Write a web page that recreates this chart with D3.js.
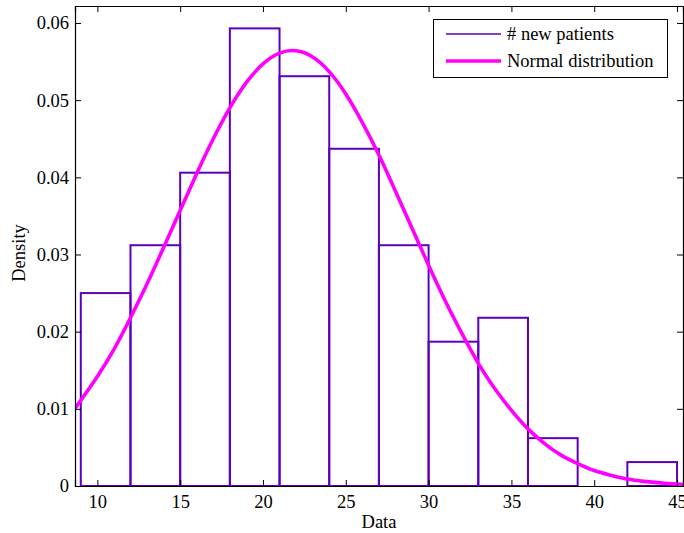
<!DOCTYPE html>
<html>
<head>
<script src="https://d3js.org/d3.v7.min.js"></script>
<style>
  body { margin: 0; background: #fff; }
  text { font-family: "Liberation Serif", "Times New Roman", serif; font-size: 18.5px; fill: #000; }
</style>
</head>
<body>
<svg width="684" height="533"></svg>
<script>
// histogram bins (edges) and density per bin
var binEdges = [9, 12, 15, 18, 21, 24, 27, 30, 33, 36, 39, 42, 45];
var density = [0.0250, 0.0312, 0.0406, 0.0593, 0.0531, 0.0437, 0.0312, 0.0187, 0.0218, 0.0062, 0, 0.0031];

// fitted normal curve
var curveX = [8.65, 9, 10, 11, 12, 13, 14, 15, 16, 17, 18, 19, 20, 21, 22, 23, 24, 25, 26, 27,
              28, 29, 30, 31, 32, 33, 34, 35, 36, 37, 38, 39, 40, 41, 42, 43, 44, 45, 45.36];
var curveY = [0.0101, 0.0111, 0.0142, 0.0177, 0.0218, 0.0262, 0.0309, 0.0357, 0.0405, 0.0450,
              0.0490, 0.0523, 0.0547, 0.0561, 0.0564, 0.0556, 0.0537, 0.0508, 0.0471, 0.0429,
              0.0382, 0.0334, 0.0286, 0.0240, 0.0198, 0.0159, 0.0126, 0.0098, 0.0074, 0.0055,
              0.0040, 0.0029, 0.0020, 0.0014, 0.0009, 0.0006, 0.0004, 0.00025, 0.0002];

var xTicks = [10, 15, 20, 25, 30, 35, 40, 45];
var yTicks = [0, 0.01, 0.02, 0.03, 0.04, 0.05, 0.06];

var svg = d3.select("svg"),
    pL = 75, pR = 683, pT = 6, pB = 486;

var x = d3.scaleLinear().domain([8.65, 45.36]).range([pL, pR]);
var y = d3.scaleLinear().domain([0, 0.0622]).range([pB, pT]);

svg.append("clipPath").attr("id", "clip")
  .append("rect").attr("x", pL).attr("y", pT).attr("width", pR - pL).attr("height", pB - pT);

var plot = svg.append("g").attr("clip-path", "url(#clip)");

plot.selectAll("rect.bar")
  .data(density)
  .enter()
  .append("rect")
  .attr("class", "bar")
  .attr("x", function(d, i) { return x(binEdges[i]); })
  .attr("y", function(d) { return y(d); })
  .attr("width", function(d, i) { return x(binEdges[i + 1]) - x(binEdges[i]); })
  .attr("height", function(d) { return pB - y(d); })
  .attr("fill", "none")
  .attr("stroke", "#5e00bb")
  .attr("stroke-width", 2);

var line = d3.line()
  .x(function(d, i) { return x(curveX[i]); })
  .y(function(d) { return y(d); })
  .curve(d3.curveNatural);

plot.append("path")
  .attr("d", line(curveY))
  .attr("fill", "none")
  .attr("stroke", "#ff00ff")
  .attr("stroke-width", 3.6);

// axes box with inward ticks on all sides
var axes = svg.append("g");
axes.append("g").attr("transform", "translate(0," + pB + ")")
  .call(d3.axisBottom(x).tickValues(xTicks).tickSize(-6).tickPadding(9).tickFormat(d3.format("d")));
axes.append("g").attr("transform", "translate(0," + pT + ")")
  .call(d3.axisTop(x).tickValues(xTicks).tickSize(-6).tickFormat(""));
axes.append("g").attr("transform", "translate(" + pL + ",0)")
  .call(d3.axisLeft(y).tickValues(yTicks).tickSize(-6).tickPadding(6).tickFormat(function(d) { return d === 0 ? "0" : d3.format(".2f")(d); }));
axes.append("g").attr("transform", "translate(" + pR + ",0)")
  .call(d3.axisRight(y).tickValues(yTicks).tickSize(-6).tickFormat(""));
axes.selectAll(".domain").attr("stroke", "#000").attr("stroke-width", 1.2);
axes.selectAll(".tick line").attr("stroke", "#000");
axes.selectAll(".tick text").style("font-family", "Liberation Serif").style("font-size", "18.5px").attr("fill", "#000");

svg.append("text").attr("x", (pL + pR) / 2).attr("y", 528).attr("text-anchor", "middle").text("Data");
svg.append("text").attr("transform", "translate(25,253) rotate(-90)").attr("text-anchor", "middle").text("Density");

// legend
var legend = svg.append("g");
legend.append("rect").attr("x", 433.5).attr("y", 19.5).attr("width", 234).attr("height", 58)
  .attr("fill", "#fff").attr("stroke", "#000").attr("stroke-width", 1);
legend.append("line").attr("x1", 446).attr("x2", 501).attr("y1", 34).attr("y2", 34)
  .attr("stroke", "#5e00bb").attr("stroke-width", 1.5);
legend.append("line").attr("x1", 446).attr("x2", 501).attr("y1", 61).attr("y2", 61)
  .attr("stroke", "#ff00ff").attr("stroke-width", 3.6);
legend.append("text").attr("x", 507).attr("y", 40).text("# new patients");
legend.append("text").attr("x", 507).attr("y", 67).text("Normal distribution");
</script>
</body>
</html>
